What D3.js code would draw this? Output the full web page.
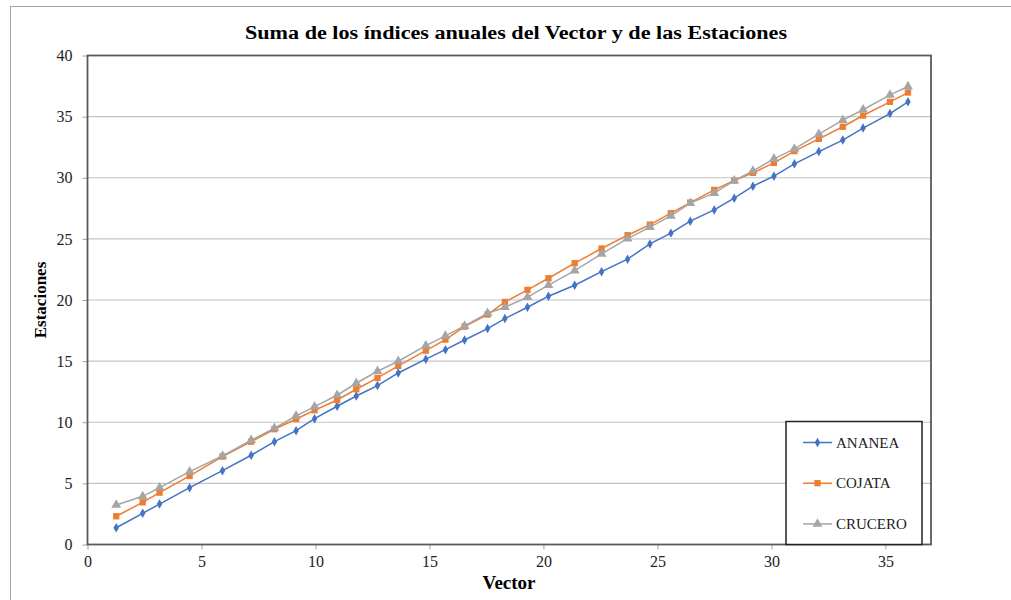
<!DOCTYPE html>
<html>
<head>
<meta charset="utf-8">
<script src="https://cdn.jsdelivr.net/npm/d3@7"></script>
<style>
  body { margin: 0; background: #fff; }
  svg text { font-family: "Liberation Serif", "Times New Roman", serif; }
</style>
</head>
<body>
<script>
// Suma acumulada de los índices anuales
var vector  = [1.26, 2.42, 3.16, 4.48, 5.92, 7.18, 8.20, 9.15, 9.96, 10.95, 11.79, 12.72, 13.63, 14.84, 15.70, 16.54, 17.55, 18.31, 19.30, 20.22, 21.37, 22.55, 23.69, 24.67, 25.59, 26.44, 27.49, 28.37, 29.19, 30.11, 31.01, 32.08, 33.13, 34.02, 35.20, 35.99];
var ananea  = [1.37, 2.55, 3.31, 4.65, 6.04, 7.30, 8.41, 9.31, 10.29, 11.31, 12.15, 13.00, 14.03, 15.16, 15.94, 16.73, 17.66, 18.48, 19.41, 20.31, 21.21, 22.32, 23.34, 24.59, 25.47, 26.45, 27.37, 28.33, 29.31, 30.13, 31.14, 32.14, 33.08, 34.06, 35.25, 36.21];
var cojata  = [2.31, 3.45, 4.24, 5.61, 7.19, 8.41, 9.43, 10.27, 10.98, 11.82, 12.70, 13.63, 14.61, 15.86, 16.76, 17.82, 18.81, 19.84, 20.83, 21.78, 23.01, 24.21, 25.30, 26.17, 27.10, 27.97, 29.01, 29.77, 30.40, 31.22, 32.18, 33.18, 34.17, 35.09, 36.21, 36.97];
var crucero = [3.23, 3.94, 4.65, 5.96, 7.24, 8.53, 9.51, 10.52, 11.28, 12.21, 13.19, 14.17, 14.99, 16.27, 17.06, 17.88, 18.92, 19.41, 20.23, 21.21, 22.41, 23.77, 25.02, 25.96, 26.88, 27.92, 28.74, 29.77, 30.56, 31.55, 32.36, 33.57, 34.71, 35.56, 36.78, 37.46];

var seriesNames = ["ANANEA", "COJATA", "CRUCERO"];
var xTicks = [0, 5, 10, 15, 20, 25, 30, 35];
var yTicks = [0, 5, 10, 15, 20, 25, 30, 35, 40];

var colors = ["#4472C4", "#ED7D31", "#A5A5A5"];
var symbols = [d3.symbolDiamond, d3.symbolSquare, d3.symbolTriangle];
var symSizes = [26, 40, 42];
var serif = "'Liberation Serif', 'Times New Roman', serif";

var width = 1011, height = 600;
var m = { left: 87.5, right: 931, top: 55.5, bottom: 544.5 };

var svg = d3.select("body").append("svg")
    .attr("width", width)
    .attr("height", height);

// marco exterior
svg.append("rect")
    .attr("x", 10.5).attr("y", 6.5)
    .attr("width", 1100).attr("height", 700)
    .attr("fill", "none")
    .attr("stroke", "#a6a6a6");

var x = d3.scaleLinear().domain([0, 37]).range([m.left, m.right]);
var y = d3.scaleLinear().domain([0, 40]).range([m.bottom, m.top]);

// lineas de cuadricula
svg.append("g")
    .selectAll("line")
    .data(yTicks.slice(1, -1))
    .enter().append("line")
    .attr("x1", m.left).attr("x2", m.right)
    .attr("y1", function(d) { return y(d); })
    .attr("y2", function(d) { return y(d); })
    .attr("stroke", "#c4c4c4")
    .attr("stroke-width", 1.2);

// ejes
var yAxis = svg.append("g")
    .attr("transform", "translate(" + m.left + ",0)")
    .call(d3.axisLeft(y).tickValues(yTicks).tickSize(5).tickSizeOuter(0).tickPadding(10));
var xAxis = svg.append("g")
    .attr("transform", "translate(0," + m.bottom + ")")
    .call(d3.axisBottom(x).tickValues(xTicks).tickSize(5).tickSizeOuter(0).tickPadding(6));

[xAxis, yAxis].forEach(function(a) {
    a.attr("font-family", serif).attr("font-size", 16);
    a.select(".domain").remove();
    a.selectAll(".tick line").attr("stroke", "#a0a0a0");
    a.selectAll(".tick text").attr("fill", "#222");
});

// borde del area de trazado
svg.append("rect")
    .attr("x", m.left).attr("y", m.top)
    .attr("width", m.right - m.left).attr("height", m.bottom - m.top)
    .attr("fill", "none")
    .attr("stroke", "#5a5a5a")
    .attr("stroke-width", 1.8);

var allSeries = [ananea, cojata, crucero];

var line = d3.line()
    .x(function(d) { return x(d[0]); })
    .y(function(d) { return y(d[1]); });

allSeries.forEach(function(vals, i) {
    var pts = vector.map(function(v, j) { return [v, vals[j]]; });
    svg.append("path")
        .datum(pts)
        .attr("d", line)
        .attr("fill", "none")
        .attr("stroke", colors[i])
        .attr("stroke-width", 1.5);
    svg.append("g")
        .selectAll("path")
        .data(pts)
        .enter().append("path")
        .attr("transform", function(d) { return "translate(" + x(d[0]) + "," + y(d[1]) + ")"; })
        .attr("d", d3.symbol().type(symbols[i]).size(symSizes[i]))
        .attr("fill", colors[i]);
});

// titulo
svg.append("text")
    .attr("x", 245).attr("y", 39)
    .attr("font-family", serif)
    .attr("font-size", 18.5)
    .attr("font-weight", "bold")
    .attr("textLength", 542)
    .attr("lengthAdjust", "spacingAndGlyphs")
    .text("Suma de los índices anuales del Vector y de las Estaciones");

svg.append("text")
    .attr("x", 509).attr("y", 589)
    .attr("text-anchor", "middle")
    .attr("font-family", serif)
    .attr("font-size", 19)
    .attr("font-weight", "bold")
    .text("Vector");

svg.append("text")
    .attr("transform", "translate(46,300) rotate(-90)")
    .attr("text-anchor", "middle")
    .attr("font-family", serif)
    .attr("font-size", 17)
    .attr("font-weight", "bold")
    .text("Estaciones");

// leyenda
var leg = svg.append("g");
leg.append("rect")
    .attr("x", 786).attr("y", 421.5)
    .attr("width", 136).attr("height", 123)
    .attr("fill", "#fff")
    .attr("stroke", "#222")
    .attr("stroke-width", 1.5);

var rows = leg.selectAll("g.item")
    .data(seriesNames)
    .enter().append("g")
    .attr("class", "item")
    .attr("transform", function(d, i) { return "translate(0," + (442.5 + i * 40.7) + ")"; });

rows.append("line")
    .attr("x1", 803).attr("x2", 832)
    .attr("stroke", function(d, i) { return colors[i]; })
    .attr("stroke-width", 1.5);
rows.append("path")
    .attr("transform", "translate(817.5,0)")
    .attr("d", function(d, i) { return d3.symbol().type(symbols[i]).size(symSizes[i])(); })
    .attr("fill", function(d, i) { return colors[i]; });
rows.append("text")
    .attr("x", 836).attr("y", 5)
    .attr("font-family", serif)
    .attr("font-size", 15)
    .attr("fill", "#222")
    .text(function(d) { return d; });
</script>
</body>
</html>
